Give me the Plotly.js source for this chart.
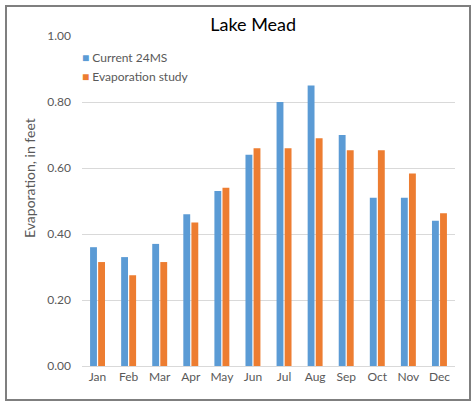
<!DOCTYPE html>
<html>
<head>
<meta charset="utf-8">
<script src="https://cdn.plot.ly/plotly-3.0.1.min.js"></script>
<style>
  html, body { margin: 0; padding: 0; background: #fff; }
  #chart { width: 475px; height: 405px; }
</style>
</head>
<body>
<div id="chart"></div>
<script>
"use strict";

const MONTHS = ["Jan", "Feb", "Mar", "Apr", "May", "Jun", "Jul", "Aug", "Sep", "Oct", "Nov", "Dec"];
const CURRENT_24MS = [0.36, 0.33, 0.37, 0.46, 0.53, 0.64, 0.80, 0.85, 0.70, 0.51, 0.51, 0.44];
const EVAP_STUDY = [0.315, 0.275, 0.315, 0.435, 0.54, 0.66, 0.66, 0.69, 0.654, 0.654, 0.583, 0.463];
const Y_TICKS = [0, 0.2, 0.4, 0.6, 0.8, 1.0];

const FONT = "Lato, 'Open Sans', sans-serif";
const GREY = "#595959";

const SERIES = [
  { name: "Current 24MS", y: CURRENT_24MS, color: "#5b9bd5" },
  { name: "Evaporation study", y: EVAP_STUDY, color: "#ed7d31" },
];

const traces = SERIES.map((s) => ({
  type: "bar",
  name: s.name,
  x: MONTHS,
  y: s.y,
  marker: { color: s.color, line: { width: 0 } },
  showlegend: false,
}));

// Excel-style legend: small coloured square glyph right before the label.
const legendNotes = SERIES.map((s, i) => ({
  xref: "paper",
  yref: "paper",
  x: -0.005,
  y: 0.936 - i * 0.06,
  xanchor: "left",
  yanchor: "middle",
  showarrow: false,
  text: `<span style="color:${s.color}">■</span> ${s.name}`,
  font: { family: FONT, size: 12, color: GREY },
}));

// Plot area runs 82..455 px across, 36..366 px down; frame sits outside it.
const layout = {
  width: 475,
  height: 405,
  margin: { l: 82, r: 20, t: 36, b: 39 },
  paper_bgcolor: "#fff",
  plot_bgcolor: "#fff",
  font: { family: FONT, size: 12, color: GREY },
  title: {
    text: "Lake Mead",
    font: { family: FONT, size: 18, color: "#000" },
    x: 0.533,
    xanchor: "center",
    y: 0.94,
    yanchor: "middle",
  },
  barmode: "group",
  bargap: 0.48,
  bargroupgap: 0.15,
  showlegend: false,
  xaxis: {
    showgrid: false,
    showline: true,
    linecolor: "#d9d9d9",
    linewidth: 1,
    ticks: "",
    tickfont: { family: FONT, size: 12, color: GREY },
    fixedrange: true,
  },
  yaxis: {
    range: [0, 1.0],
    tickvals: Y_TICKS,
    tickformat: ".2f",
    showgrid: true,
    gridcolor: "#d9d9d9",
    gridwidth: 1,
    zeroline: false,
    showline: false,
    ticks: "",
    ticklabelstandoff: 10,
    tickfont: { family: FONT, size: 12, color: GREY },
    fixedrange: true,
  },
  annotations: [
    ...legendNotes,
    {
      // y title sits a bit above the plot centre, as in the original
      xref: "paper",
      yref: "paper",
      x: (29 - 82) / 373,
      y: (366 - 178) / 330,
      xanchor: "center",
      yanchor: "middle",
      textangle: -90,
      showarrow: false,
      text: "Evaporation, in feet",
      font: { family: FONT, size: 14, color: GREY },
    },
  ],
  shapes: [
    {
      type: "rect",
      xref: "paper",
      yref: "paper",
      x0: (6 - 82) / 373,
      x1: (470 - 82) / 373,
      y0: (366 - 400) / 330,
      y1: (366 - 6) / 330,
      line: { color: "#7f7f7f", width: 2 },
      fillcolor: "rgba(0,0,0,0)",
      layer: "above",
    },
  ],
};

Plotly.newPlot("chart", traces, layout, { displayModeBar: false, staticPlot: true });
</script>
</body>
</html>
